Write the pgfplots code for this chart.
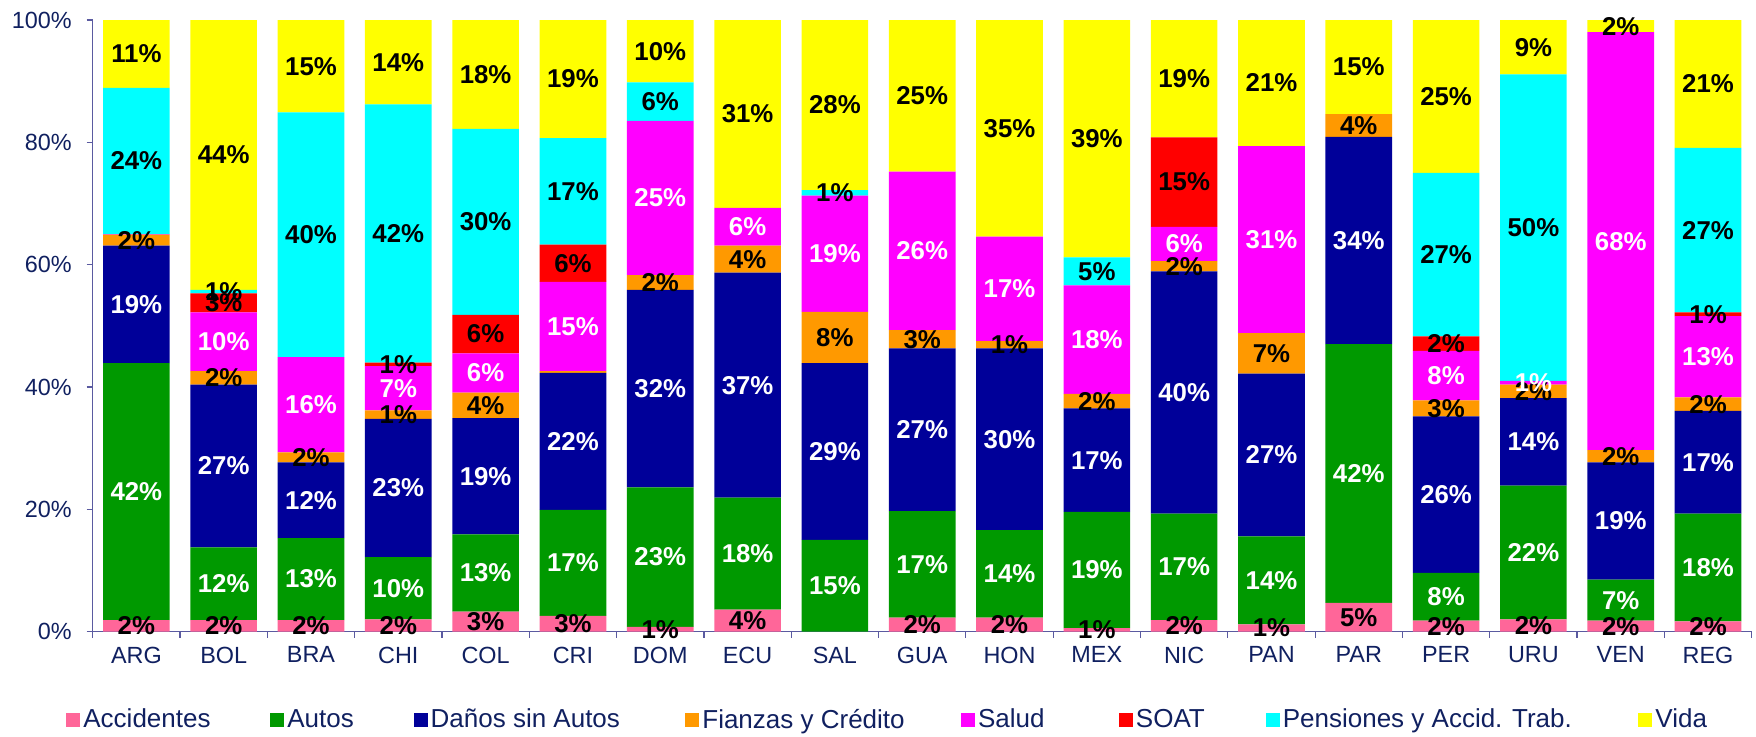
\documentclass[border=0pt]{standalone}
\usepackage{fontspec}
\setmainfont{Liberation Sans}
\usepackage{pgfplots}
\usepackage{pgfplotstable}
\pgfplotsset{compat=1.18}

\definecolor{colAcc}{RGB}{255,102,153}
\definecolor{colAut}{RGB}{0,153,0}
\definecolor{colDan}{RGB}{0,0,153}
\definecolor{colFia}{RGB}{255,153,0}
\definecolor{colSal}{RGB}{255,0,255}
\definecolor{colSoa}{RGB}{255,0,0}
\definecolor{colPen}{RGB}{0,255,255}
\definecolor{colVid}{RGB}{255,255,0}
\definecolor{axtext}{RGB}{16,32,96}
\definecolor{axline}{RGB}{90,90,160}

% shares per country (percent)
\pgfplotstableread{
x name Acc Aut Dan Fia Sal Soa Pen Vid
0  ARG 1.9 42.0 19.2 1.8 0.1 0   23.9 11.1
1  BOL 1.9 11.9 26.6 2.2 9.6 3.1 0.6  44.1
2  BRA 1.9 13.4 12.4 1.6 15.6 0  40.0 15.1
3  CHI 2.0 10.2 22.6 1.4 7.2 0.6 42.2 13.8
4  COL 3.3 12.6 19.0 4.2 6.4 6.3 30.4 17.8
5  CRI 2.6 17.3 22.4 0.3 14.6 6.1 17.4 19.3
6  DOM 0.8 22.8 32.3 2.4 25.2 0  6.3  10.2
7  ECU 3.6 18.3 36.8 4.4 6.2 0   0    30.7
8  SAL 0   15.0 28.9 8.4 19.0 0  0.9  27.8
9  GUA 2.3 17.4 26.6 3.0 25.9 0  0    24.8
10 HON 2.3 14.3 29.7 1.2 17.1 0  0    35.4
11 MEX 0.6 19.0 16.9 2.4 17.7 0  4.6  38.8
12 NIC 1.9 17.4 39.6 1.7 5.6 14.6 0   19.2
13 PAN 1.2 14.4 26.6 6.6 30.6 0  0    20.6
14 PAR 4.7 42.3 33.9 3.7 0   0   0    15.4
15 PER 1.8 7.8  25.6 2.6 8.1 2.4 26.7 25.0
16 URU 2.0 21.9 14.3 2.2 0.6 0   50.1 8.9
17 VEN 1.8 6.7  19.2 2.0 68.3 0  0    2.0
18 REG 1.7 17.6 16.8 2.2 13.3 0.6 26.9 20.9
}\data

% centres of the stacked segments, for the labels
\pgfplotstablecreatecol[create col/expr={\thisrow{Acc}/2}]{cAcc}\data
\pgfplotstablecreatecol[create col/expr={\thisrow{Acc}+\thisrow{Aut}/2}]{cAut}\data
\pgfplotstablecreatecol[create col/expr={\thisrow{Acc}+\thisrow{Aut}+\thisrow{Dan}/2}]{cDan}\data
\pgfplotstablecreatecol[create col/expr={\thisrow{Acc}+\thisrow{Aut}+\thisrow{Dan}+\thisrow{Fia}/2}]{cFia}\data
\pgfplotstablecreatecol[create col/expr={\thisrow{Acc}+\thisrow{Aut}+\thisrow{Dan}+\thisrow{Fia}+\thisrow{Sal}/2}]{cSal}\data
\pgfplotstablecreatecol[create col/expr={\thisrow{Acc}+\thisrow{Aut}+\thisrow{Dan}+\thisrow{Fia}+\thisrow{Sal}+\thisrow{Soa}/2}]{cSoa}\data
\pgfplotstablecreatecol[create col/expr={\thisrow{Acc}+\thisrow{Aut}+\thisrow{Dan}+\thisrow{Fia}+\thisrow{Sal}+\thisrow{Soa}+\thisrow{Pen}/2}]{cPen}\data
\pgfplotstablecreatecol[create col/expr={\thisrow{Acc}+\thisrow{Aut}+\thisrow{Dan}+\thisrow{Fia}+\thisrow{Sal}+\thisrow{Soa}+\thisrow{Pen}+\thisrow{Vid}/2}]{cVid}\data

\newcommand\lblfont{\bfseries\fontsize{12.9}{14}\selectfont}
\newcommand\lbl[2]{%
  \addplot[draw=none, mark=none,
    nodes near coords={\pgfmathprintnumber[fixed,precision=0,assume math mode=true]{\pgfplotspointmeta}\%},
    nodes near coords style={anchor=center, text=#2, font=\lblfont, inner sep=0pt},
    point meta=\thisrow{#1},
    x filter/.expression={\thisrow{#1}<0.5 ? nan : x}]
    table[x=x, y=c#1]{\data};}

\begin{document}
\begin{tikzpicture}
\pgfplotsset{
  common/.style={
    scale only axis, width=829.5pt, height=305.85pt,
    xmin=-0.5, xmax=18.5, ymin=0, ymax=100,
  }
}
\begin{axis}[common,
    ybar stacked, bar width=0.763,
    axis x line*=bottom, axis y line*=left,
    axis line style={axline, line width=0.6pt},
    tick align=outside, major tick length=3pt,
    tick style={axline, line width=0.6pt},
    ytick={0,20,40,60,80,100},
    yticklabels={0\%,20\%,40\%,60\%,80\%,100\%},
    xtick={-0.5,0.5,...,18.5}, xticklabels={},
    extra x ticks={0,...,18},
    extra x tick labels={ARG,BOL,BRA,CHI,COL,CRI,DOM,ECU,SAL,GUA,HON,MEX,NIC,PAN,PAR,PER,URU,VEN,REG},
    extra x tick style={major tick length=0pt},
    ticklabel style={font=\fontsize{11.7}{13}\selectfont, text=axtext},
    yticklabel style={xshift=-4pt},
    xticklabel style={yshift=-4pt},
    legend columns=8,
    legend image code/.code={\fill[#1] (0pt,-3.5pt) rectangle (7pt,3.5pt);},
    legend style={draw=none, fill=none, at={(-0.0161,-0.1444)}, anchor=west,
      inner xsep=0pt, inner ysep=0pt,
      font=\fontsize{13}{15}\selectfont, text=axtext,
      nodes={inner xsep=1.5pt, inner ysep=0pt},
      /tikz/every even column/.append style={column sep=28.4pt}},
  ]
  \addplot[fill=colAcc, draw=none] table[x=x, y=Acc]{\data};
  \addlegendentry{Accidentes}
  \addplot[fill=colAut, draw=none] table[x=x, y=Aut]{\data};
  \addlegendentry{Autos}
  \addplot[fill=colDan, draw=none] table[x=x, y=Dan]{\data};
  \addlegendentry{Daños sin Autos\kern2.8pt}
  \addplot[fill=colFia, draw=none] table[x=x, y=Fia]{\data};
  \addlegendentry{Fianzas y Crédito\kern-1.7pt}
  \addplot[fill=colSal, draw=none] table[x=x, y=Sal]{\data};
  \addlegendentry{Salud\kern7.3pt}
  \addplot[fill=colSoa, draw=none] table[x=x, y=Soa]{\data};
  \addlegendentry{SOAT\kern0.6pt}
  \addplot[fill=colPen, draw=none] table[x=x, y=Pen]{\data};
  \addlegendentry{Pensiones y Accid. Trab.\kern3.4pt}
  \addplot[fill=colVid, draw=none] table[x=x, y=Vid]{\data};
  \addlegendentry{Vida}
\end{axis}
\begin{axis}[common, axis lines=none, clip=false]
  \lbl{Acc}{black}
  \lbl{Aut}{white}
  \lbl{Dan}{white}
  \lbl{Fia}{black}
  \lbl{Sal}{white}
  \lbl{Soa}{black}
  \lbl{Pen}{black}
  \lbl{Vid}{black}
\end{axis}
\pgfresetboundingbox
\path (-46.35pt,-52.15pt) rectangle (831.65pt,315.85pt);
\end{tikzpicture}
\end{document}
